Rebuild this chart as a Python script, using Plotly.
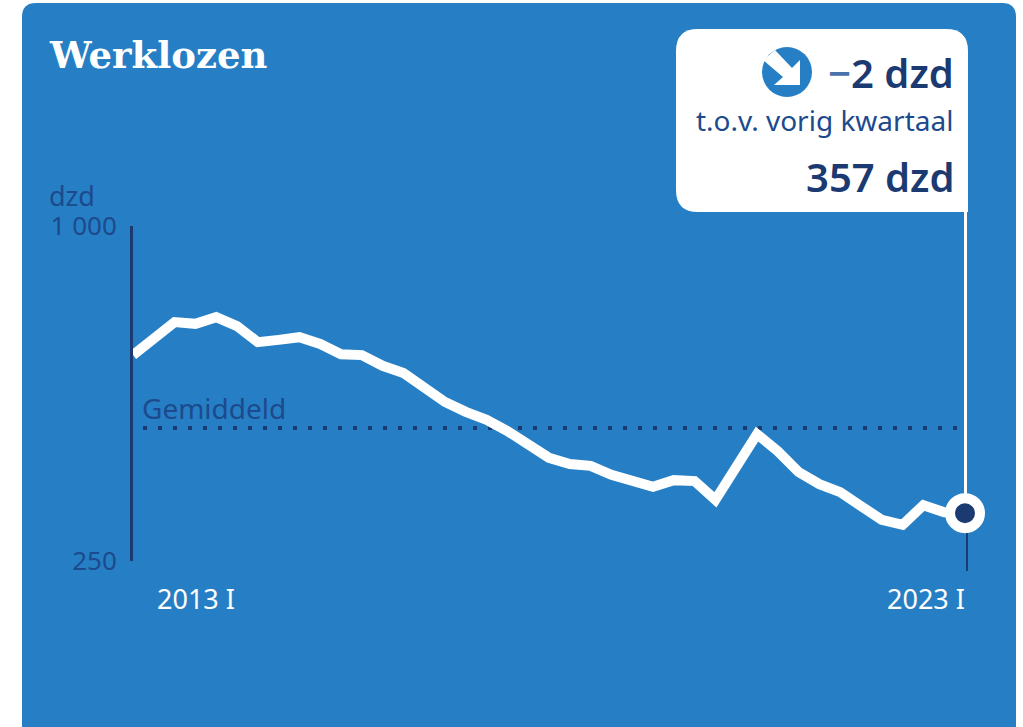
import plotly.graph_objects as go

W, H = 1023, 727

quarters = list(range(41))
werklozen = [711, 751, 785, 781, 796, 776, 740, 745, 751, 736, 713, 711, 687, 671,
             635, 606, 584, 566, 541, 510, 481, 467, 463, 443, 427, 416, 431, 429,
             387, 460, 534, 496, 449, 422, 404, 373, 342, 331, 375, 359, 357]
gemiddeld = 548
y_ticks = [250, 1000]
y_tick_labels = ["250", "1 000"]
x_labels = ["2013 I", "2023 I"]

BLUE = "#267fc4"
NAVY = "#1b3a72"
TEXT = "#1c4a8c"
FONT = "Noto Sans"


def px(x):
    return x / W


def py(y):
    return 1 - y / H


def path(pts):
    return "M " + " L ".join(f"{px(a):.5f},{py(b):.5f}" for a, b in pts) + " Z"


def rounded(x0, y0, x1, y1, r, square_br=False, square_bottom=False):
    kx, ky = r / W, r / H
    a, b, c, d = px(x0), px(x1), py(y0), py(y1)
    s = f"M {a+kx:.5f},{c:.5f} L {b-kx:.5f},{c:.5f} Q {b:.5f},{c:.5f} {b:.5f},{c-ky:.5f} "
    if square_br or square_bottom:
        s += f"L {b:.5f},{d:.5f} "
    else:
        s += f"L {b:.5f},{d+ky:.5f} Q {b:.5f},{d:.5f} {b-kx:.5f},{d:.5f} "
    if square_bottom:
        s += f"L {a:.5f},{d:.5f} "
    else:
        s += f"L {a+kx:.5f},{d:.5f} Q {a:.5f},{d:.5f} {a:.5f},{d+ky:.5f} "
    s += f"L {a:.5f},{c-ky:.5f} Q {a:.5f},{c:.5f} {a+kx:.5f},{c:.5f} Z"
    return s


def shape_paper(d, fill):
    return dict(type="path", xref="paper", yref="paper", path=d, fillcolor=fill,
                line=dict(width=0), layer="below")


fig = go.Figure()
fig.add_trace(go.Scatter(x=quarters, y=werklozen, mode="lines",
                         line=dict(color="white", width=10), cliponaxis=False,
                         hoverinfo="skip", showlegend=False))
fig.add_trace(go.Scatter(x=quarters[-1:], y=werklozen[-1:], mode="markers", cliponaxis=False,
                         marker=dict(size=30, color=NAVY, line=dict(color="white", width=10)),
                         hoverinfo="skip", showlegend=False))

shapes = [
    shape_paper(rounded(22, 3, 1016, 727, 14, square_bottom=True), BLUE),
    shape_paper(rounded(676, 29, 968, 212, 22, square_br=True), "white"),
    dict(type="circle", xref="paper", yref="paper", x0=px(762), x1=px(812), y0=py(97), y1=py(47),
         fillcolor=BLUE, line=dict(width=0), layer="above"),
    dict(type="path", xref="paper", yref="paper",
         path=path([(763, 60), (775, 50), (792, 68), (800, 60), (800, 85), (774, 85), (783, 77)]),
         fillcolor="white", line=dict(width=0), layer="above"),
    dict(type="line", xref="paper", yref="paper", x0=px(965.5), x1=px(965.5), y0=py(212), y1=py(500),
         line=dict(color="white", width=3), layer="below"),
    dict(type="line", xref="paper", yref="paper", x0=px(967), x1=px(967), y0=py(530), y1=py(571),
         line=dict(color=NAVY, width=2), layer="below"),
    dict(type="line", xref="paper", yref="y", x0=px(143), x1=px(960), y0=gemiddeld, y1=gemiddeld,
         line=dict(color=NAVY, width=4, dash="4px,11px"), layer="below"),
]


def note(text, x, y, size, color, anchor="right", family=FONT, weight=None):
    font = dict(family=family, size=size, color=color)
    if weight:
        font["weight"] = weight
    return dict(text=text, x=px(x), y=py(y), xref="paper", yref="paper", showarrow=False,
                xanchor=anchor, yanchor="middle", font=font)


annotations = [
    note("Werklozen", 47, 55, 37, "white", "left", "DejaVu Serif", 700),
    note('<span style="color:#4a72ac">−</span>2 dzd', 956, 73, 40, NAVY, weight=600),
    note("t.o.v. vorig kwartaal", 955, 120, 28, TEXT),
    note("357 dzd", 956, 177, 40, NAVY, weight=600),
    note("dzd", 47, 195, 27, TEXT, "left"),
    note("Gemiddeld", 140, 408, 28, TEXT, "left"),
    note(x_labels[0], 237, 598, 27, "white"),
    note(x_labels[1], 967, 598, 27, "white"),
]

fig.update_layout(
    template="none",
    width=W, height=H, margin=dict(l=0, r=0, t=0, b=0, pad=0, autoexpand=False),
    paper_bgcolor="white", plot_bgcolor="rgba(0,0,0,0)",
    shapes=shapes, annotations=annotations, showlegend=False,
    xaxis=dict(domain=[px(133), px(965)], range=[0, 40], showgrid=False, zeroline=False,
               showticklabels=False, ticks="", showline=False, fixedrange=True, automargin=False),
    yaxis=dict(domain=[py(561), py(226)], range=[250, 1000], showgrid=False, zeroline=False,
               tickmode="array", tickvals=y_ticks, ticktext=y_tick_labels, ticks="",
               ticklabelstandoff=8, tickfont=dict(family=FONT, size=26, color=TEXT),
               showline=True, linecolor=NAVY, linewidth=3, fixedrange=True, automargin=False),
)

fig.write_html("out.html", config={"displayModeBar": False},
               post_script="document.body.style.margin='0';document.body.style.overflow='hidden';")
